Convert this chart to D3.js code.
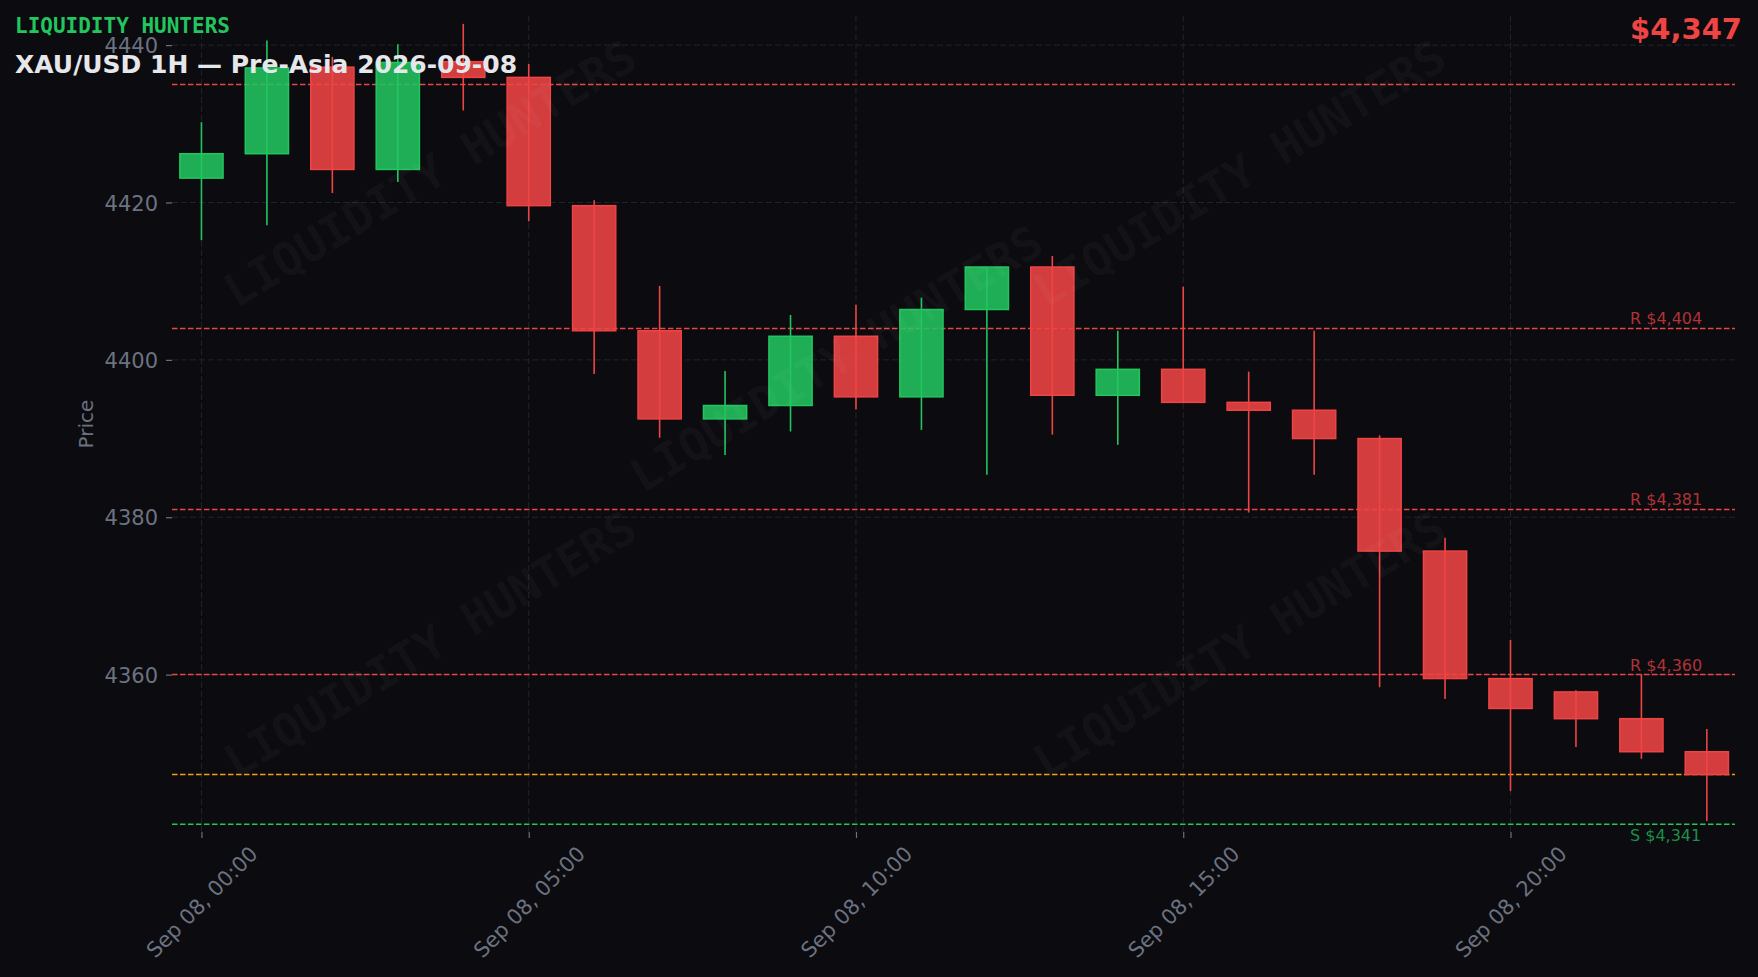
<!DOCTYPE html>
<html>
<head>
<meta charset="utf-8">
<script src="https://cdn.jsdelivr.net/npm/d3@7/dist/d3.min.js"></script>
<style>
  html, body { margin: 0; padding: 0; background: #0b0b10; }
  svg { display: block; font-family: "DejaVu Sans", sans-serif; }
</style>
</head>
<body>
<svg id="chart" width="1758" height="977"></svg>
<script>
// hourly bars, Sep 08 2026
var hours = ["00:00","01:00","02:00","03:00","04:00","05:00","06:00","07:00",
             "08:00","09:00","10:00","11:00","12:00","13:00","14:00","15:00",
             "16:00","17:00","18:00","19:00","20:00","21:00","22:00","23:00"];
var openP  = [4423.1,4426.2,4437.2,4424.2,4437.9,4435.9,4419.6,4403.7,4392.5,4394.2,4403.0,4395.3,
              4406.4,4411.8,4395.5,4398.8,4394.6,4393.6,4390.0,4375.7,4359.5,4357.8,4354.4,4350.2];
var highP  = [4430.2,4440.6,4438.5,4440.1,4442.7,4437.6,4420.3,4409.4,4398.6,4405.7,4407.0,4407.9,
              4411.8,4413.2,4403.7,4409.3,4398.5,4403.7,4390.4,4377.4,4364.4,4358.0,4360.0,4353.1];
var lowP   = [4415.2,4417.1,4421.2,4422.6,4431.7,4417.6,4398.2,4390.1,4387.9,4390.9,4393.7,4391.1,
              4385.4,4390.5,4389.2,4394.6,4380.6,4385.4,4358.4,4356.9,4345.2,4350.8,4349.3,4341.4];
var closeP = [4426.2,4437.1,4424.2,4437.8,4435.9,4419.6,4403.7,4392.5,4394.2,4403.0,4395.3,4406.4,
              4411.8,4395.5,4398.8,4394.6,4393.6,4390.0,4375.7,4359.5,4355.7,4354.4,4350.2,4347.3];

var resistance = [4404, 4381, 4360];
var support = [4341];
var sessionLine = [4435];
var yTicks = [4360, 4380, 4400, 4420, 4440];
var xTickEvery = 5;

var W = 1758, H = 977;
var margin = {left: 172, right: 23, top: 16, bottom: 145};
var green = "#22c55e", red = "#ef4444", orange = "#f59e0b", muted = "#6b7280";
var mono = "'DejaVu Sans Mono', monospace";

var parse = d3.timeParse("%Y-%m-%d %H:%M");
var dates = hours.map(function(h){ return parse("2026-09-08 " + h); });
var bars = dates.map(function(d, i){
	return {t: d, o: openP[i], h: highP[i], l: lowP[i], c: closeP[i]};
});
var hourMs = 3600 * 1000;

var svg = d3.select("#chart");
svg.append("rect").attr("width", W).attr("height", H).attr("fill", "#0b0b10");

var x = d3.scaleTime()
	.domain([new Date(+dates[0] - 0.45 * hourMs), new Date(+dates[dates.length - 1] + 0.43 * hourMs)])
	.range([margin.left, W - margin.right]);
var y = d3.scaleLinear()
	.domain([4340.0, 4443.7])
	.range([H - margin.bottom, margin.top]);

var plotL = margin.left, plotR = W - margin.right, plotT = margin.top, plotB = H - margin.bottom;

// grid
var grid = svg.append("g").attr("class", "grid");
grid.selectAll("line.gy").data(yTicks).enter().append("line")
	.attr("x1", plotL).attr("x2", plotR)
	.attr("y1", function(d){ return y(d); }).attr("y2", function(d){ return y(d); })
	.attr("stroke", "#22242b").attr("stroke-width", 1).attr("stroke-dasharray", "6,3");
var xTickVals = dates.filter(function(d, i){ return i % xTickEvery == 0; });
grid.selectAll("line.gx").data(xTickVals).enter().append("line")
	.attr("x1", function(d){ return x(d); }).attr("x2", function(d){ return x(d); })
	.attr("y1", plotT).attr("y2", plotB)
	.attr("stroke", "#22242b").attr("stroke-width", 1).attr("stroke-dasharray", "6,3");

// axes
var yAxis = svg.append("g")
	.attr("transform", "translate(" + plotL + ",0)")
	.call(d3.axisLeft(y).tickValues(yTicks).tickSize(6).tickPadding(8).tickFormat(d3.format("d")));
yAxis.select(".domain").remove();
yAxis.selectAll(".tick line").attr("stroke", muted).attr("stroke-width", 1.2);
yAxis.selectAll(".tick text").attr("fill", muted).attr("font-size", 21)
	.style("font-family", "DejaVu Sans").attr("dy", "0.36em");

var xAxis = svg.append("g")
	.attr("transform", "translate(0," + plotB + ")")
	.call(d3.axisBottom(x).tickValues(xTickVals).tickSize(6).tickFormat(d3.timeFormat("%b %d, %H:%M")));
xAxis.select(".domain").remove();
xAxis.selectAll(".tick line").attr("stroke", muted).attr("stroke-width", 1.2);
xAxis.selectAll(".tick text")
	.attr("fill", muted).attr("font-size", 21).style("font-family", "DejaVu Sans")
	.attr("text-anchor", "middle")
	.attr("x", 0).attr("y", 70).attr("dy", "0.35em")
	.attr("transform", "rotate(-45,0,70)");

svg.append("text")
	.attr("transform", "translate(86," + ((plotT + plotB) / 2) + ") rotate(-90)")
	.attr("text-anchor", "middle").attr("dy", "0.35em")
	.attr("fill", muted).attr("font-size", 20).text("Price");

// levels
var levels = svg.append("g").attr("class", "levels");
function levelLine(v, col){
	levels.append("line")
		.attr("x1", plotL).attr("x2", plotR)
		.attr("y1", y(v)).attr("y2", y(v))
		.attr("stroke", col).attr("stroke-width", 1.5).attr("stroke-dasharray", "5.5,2.5");
}
sessionLine.forEach(function(v){ levelLine(v, red); });
resistance.forEach(function(v){
	levelLine(v, red);
	levels.append("text").attr("x", plotR - 105).attr("y", y(v) - 4)
		.attr("fill", red).attr("fill-opacity", 0.72).attr("font-size", 16)
		.text("R $" + d3.format(",")(v));
});
support.forEach(function(v){
	levelLine(v, green);
	levels.append("text").attr("x", plotR - 105).attr("y", y(v) + 4).attr("dy", "0.8em")
		.attr("fill", green).attr("fill-opacity", 0.72).attr("font-size", 16)
		.text("S $" + d3.format(",")(v));
});
levelLine(closeP[closeP.length - 1], orange);

// candles
var bw = (x(dates[1]) - x(dates[0])) * 0.66;
var candles = svg.append("g").attr("class", "candles");
var cg = candles.selectAll("g").data(bars).enter().append("g");
cg.append("line")
	.attr("x1", function(d){ return x(d.t); }).attr("x2", function(d){ return x(d.t); })
	.attr("y1", function(d){ return y(d.h); }).attr("y2", function(d){ return y(d.l); })
	.attr("stroke", function(d){ return d.c >= d.o ? green : red; })
	.attr("stroke-width", 1.6);
cg.append("rect")
	.attr("x", function(d){ return x(d.t) - bw / 2; })
	.attr("width", bw)
	.attr("y", function(d){ return y(Math.max(d.o, d.c)); })
	.attr("height", function(d){ return Math.max(1, Math.abs(y(d.o) - y(d.c))); })
	.attr("fill", function(d){ return d.c >= d.o ? green : red; })
	.attr("fill-opacity", 0.88)
	.attr("stroke", function(d){ return d.c >= d.o ? green : red; })
	.attr("stroke-width", 1.5);

// watermark
var wmPos = [[0.165, 0.23], [0.683, 0.23], [0.165, 0.807], [0.683, 0.807], [0.425, 0.58]];
svg.append("g").selectAll("text").data(wmPos).enter().append("text")
	.attr("transform", function(d){
		var px = plotL + d[0] * (plotR - plotL);
		var py = plotB - d[1] * (plotB - plotT);
		return "translate(" + px + "," + py + ") rotate(-31)";
	})
	.attr("text-anchor", "middle").attr("dy", "0.35em")
	.style("font-family", mono).attr("font-weight", "bold").attr("font-size", 46)
	.attr("fill", "#ffffff").attr("fill-opacity", 0.045)
	.text("LIQUIDITY HUNTERS");

// header
svg.append("text").attr("x", 15).attr("y", 33)
	.style("font-family", mono).attr("font-weight", "bold").attr("font-size", 21)
	.attr("fill", green).text("LIQUIDITY HUNTERS");
svg.append("text").attr("x", 15).attr("y", 73)
	.attr("font-weight", "bold").attr("font-size", 25)
	.attr("fill", "#e5e7eb").text("XAU/USD 1H \u2014 Pre-Asia 2026-09-08");
svg.append("text").attr("x", 1742).attr("y", 39).attr("text-anchor", "end")
	.attr("font-weight", "bold").attr("font-size", 29)
	.attr("fill", red).text("$" + d3.format(",")(Math.round(closeP[closeP.length - 1])));
</script>
</body>
</html>
